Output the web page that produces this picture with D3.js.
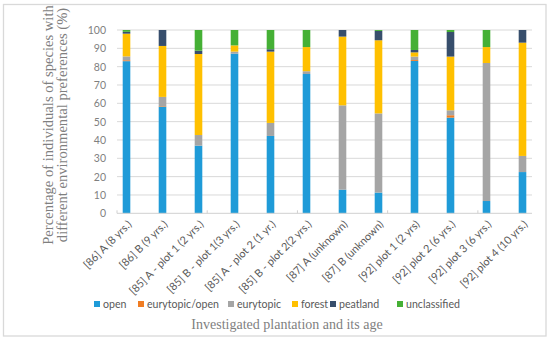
<!DOCTYPE html>
<html><head><meta charset="utf-8">
<script src="https://cdn.jsdelivr.net/npm/d3@7"></script>
<style>html,body{margin:0;padding:0;background:#fff;}svg{display:block;}</style>
</head><body>
<svg id="c" width="550" height="341"></svg>
<script>
const categories = ["[86] A (8 yrs.)","[86] B (9 yrs.)","[85] A - plot 1 (2 yrs.)","[85] B - plot 1(3 yrs.)","[85] A - plot 2 (1 yr.)","[85] B - plot 2(2 yrs.)","[87] A (unknown)","[87] B (unknown)","[92] plot 1 (2 yrs)","[92] plot 2 (6 yrs.)","[92] plot 3 (6 yrs.)","[92] plot 4 (10 yrs.)"];
const seriesNames = ["open","eurytopic/open","eurytopic","forest","peatland","unclassified"];
const open         = [83.0, 58.2, 36.9, 87.1, 42.2, 76.0, 12.9, 11.3, 83.1, 52.2, 6.7, 22.5];
const eurytopicOpen= [0.5, 0.3, 0, 0, 0, 0, 0, 0, 0.5, 1.3, 0, 0];
const eurytopic    = [2.1, 5.0, 5.8, 1.1, 7.1, 1.5, 46.0, 43.2, 1.9, 2.7, 75.3, 8.8];
const forest       = [12.4, 27.8, 44.2, 3.4, 38.9, 13.2, 37.5, 39.9, 2.3, 29.3, 8.7, 61.8];
const peatland     = [1.0, 8.7, 1.8, 0, 1.3, 0, 3.6, 5.1, 1.3, 13.4, 0, 6.9];
const unclassified = [1.0, 0, 11.3, 8.4, 10.5, 9.3, 0, 0.5, 10.9, 1.1, 9.3, 0];
const colors = ["#1F9BD8","#F07C22","#A5A5A5","#FFC000","#374E6C","#45B035"];
const yTicks = [0,10,20,30,40,50,60,70,80,90,100];
const yTitle = ["Percentage of individuals of species with","different environmental preferences (%)"];
const xTitle = "Investigated plantation and its age";

const svg = d3.select("#c");
svg.append("rect").attr("x",3.5).attr("y",4.5).attr("width",542.5).attr("height",331.5)
  .attr("fill","#fff").attr("stroke","#d9d9d9").attr("stroke-width",1.3);

const L=117, R=532, T=30, B=213.3;
const x = d3.scalePoint().domain(categories).range([L,R]).padding(0.264);
const y = d3.scaleLinear().domain([0,100]).range([B,T]);
const bw = 7.6;

svg.append("g").selectAll("line").data(yTicks.slice(1)).join("line")
  .attr("x1",L).attr("x2",R).attr("y1",d=>y(d)).attr("y2",d=>y(d))
  .attr("stroke","#d9d9d9").attr("stroke-width",1);

const ya = svg.append("g").attr("transform",`translate(${L},0)`)
  .call(d3.axisLeft(y).tickValues(yTicks).tickSize(0).tickPadding(11));
ya.select(".domain").remove();
ya.selectAll("text").attr("font-family","Lato, 'Open Sans', sans-serif").attr("font-size",10.5).attr("fill","#7f7f7f");

const rows = categories.map((c,i)=>({cat:c, open:open[i], "eurytopic/open":eurytopicOpen[i], eurytopic:eurytopic[i], forest:forest[i], peatland:peatland[i], unclassified:unclassified[i]}));
const stack = d3.stack().keys(seriesNames)(rows);
svg.append("g").selectAll("g").data(stack).join("g").attr("fill",(d,i)=>colors[i])
  .selectAll("rect").data(d=>d).join("rect")
  .attr("x",d=>x(d.data.cat)-bw/2).attr("width",bw)
  .attr("y",d=>y(d[1])).attr("height",d=>Math.max(0,y(d[0])-y(d[1])));

svg.append("line").attr("x1",L).attr("x2",R).attr("y1",B).attr("y2",B).attr("stroke","#d0d0d0").attr("stroke-width",1);
const xi = d3.scaleLinear().domain([-0.25,11.25]).range([L,R]);
const tickIdx = [-0.25,2.25,4.75,7.25,9.75];
svg.append("g").selectAll("line").data(tickIdx).join("line")
  .attr("x1",d=>xi(d)).attr("x2",d=>xi(d)).attr("y1",B-3).attr("y2",B).attr("stroke","#d0d0d0");

svg.append("g").selectAll("text").data(categories).join("text")
  .attr("transform",d=>`translate(${x(d)+3},${B+9}) rotate(-45)`)
  .attr("text-anchor","end").attr("dy","0.35em")
  .attr("font-family","Lato, 'Open Sans', sans-serif").attr("font-size",10.8).attr("fill","#595959")
  .text(d=>d);

const legX = [97,141,231,295,333,400];
const lg = svg.append("g").selectAll("g").data(seriesNames).join("g")
  .attr("transform",(d,i)=>`translate(${legX[i]},304)`);
lg.append("rect").attr("x",-3).attr("y",-3).attr("width",6).attr("height",6).attr("fill",(d,i)=>colors[i]);
lg.append("text").attr("x",6).attr("dy","0.35em").attr("font-family","Lato, 'Open Sans', sans-serif")
  .attr("font-size",10.6).attr("fill","#595959").text(d=>d);

svg.append("text").attr("x",287).attr("y",329).attr("text-anchor","middle")
  .attr("font-family","'Liberation Serif', serif").attr("font-size",14).attr("fill","#7f7f7f").text(xTitle);
const yt = svg.append("text").attr("transform","translate(50,125) rotate(-90)").attr("text-anchor","middle")
  .attr("font-family","'Liberation Serif', serif").attr("font-size",14.6).attr("fill","#7f7f7f");
yt.selectAll("tspan").data(yTitle).join("tspan").attr("x",0).attr("dy",(d,i)=>i?14:0).attr("dominant-baseline","middle").text(d=>d);
</script>
</body></html>
